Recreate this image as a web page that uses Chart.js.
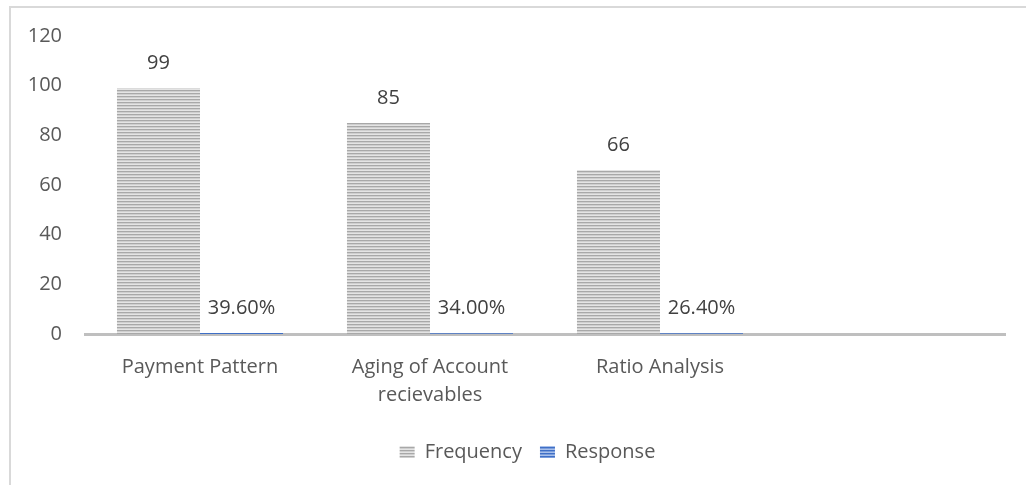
<!DOCTYPE html>
<html lang="en">
<head>
  <meta charset="UTF-8">
  <title>Debtor evaluation methods</title>
  <style>
    *{
      margin: 0;
      padding: 0;
    }
    body{
      background: #fff;
      width: 1026px;
      height: 485px;
      overflow: hidden;
      position: relative;
    }
    .frame{
      position: absolute;
      left: 9px;
      top: 6px;
      width: 1100px;
      height: 600px;
      border-left: 2px solid #d9d9d9;
      border-top: 2px solid #d9d9d9;
    }
    .chartBox{
      position: absolute;
      left: 0;
      top: 0;
      width: 1026px;
      height: 485px;
    }
  </style>
</head>
<body>
  <div class="frame"></div>
  <div class="chartBox">
    <canvas id="myChart"></canvas>
  </div>
  <script src="https://cdn.jsdelivr.net/npm/chart.js"></script>
  <script>
    // data
    const categories = ['Payment Pattern', ['Aging of Account', 'recievables'], 'Ratio Analysis', ''];
    const frequency = [99, 85, 66, null];
    const response = [0.396, 0.34, 0.264, null];
    const yMax = 120;
    const yStep = 20;

    // striped fills like the excel pattern
    function stripes(colors){
      const c = document.createElement('canvas');
      c.width = 4;
      c.height = colors.length;
      const ctx = c.getContext('2d');
      colors.forEach((col, i) => {
        ctx.fillStyle = col;
        ctx.fillRect(0, i, 4, 1);
      });
      return ctx.createPattern(c, 'repeat');
    }
    const grayFill = stripes(['#a8a8a8', '#cfcfcf', '#e4e4e4']);
    const blueFill = stripes(['#3f6fc6', '#7b9ddb', '#a9c0ea']);

    const font = "'Open Sans', sans-serif";

    // value labels above bars
    const barLabels = {
      id: 'barLabels',
      afterDatasetsDraw(chart){
        const ctx = chart.ctx;
        ctx.save();
        ctx.font = '20px ' + font;
        ctx.fillStyle = '#404040';
        ctx.textAlign = 'center';
        ctx.textBaseline = 'middle';
        chart.data.datasets.forEach((ds, di) => {
          chart.getDatasetMeta(di).data.forEach((bar, i) => {
            const v = ds.data[i];
            if (v === null || v === undefined) return;
            const txt = di === 0 ? String(v) : (v * 100).toFixed(2) + '%';
            ctx.fillText(txt, bar.x, bar.y - 25);
          });
        });
        ctx.restore();
      }
    };

    // legend sits a bit right of the canvas centre in the original
    const legendShift = {
      id: 'legendShift',
      afterLayout(chart){
        chart.legend.left += 50;
      }
    };

    const data = {
      labels: categories,
      datasets: [{
        label: 'Frequency',
        data: frequency,
        backgroundColor: grayFill,
        borderWidth: 0
      }, {
        label: 'Response',
        data: response,
        backgroundColor: blueFill,
        borderWidth: 0
      }]
    };

    const config = {
      type: 'bar',
      data,
      options: {
        responsive: false,
        animation: false,
        devicePixelRatio: 1,
        layout: {
          padding: { left: 0, right: 21, top: 36, bottom: 13 }
        },
        datasets: {
          bar: { categoryPercentage: 0.722, barPercentage: 1 }
        },
        scales: {
          x: {
            grid: { display: false, drawTicks: false },
            border: { display: true, color: '#bfbfbf', width: 3 },
            ticks: {
              color: '#595959',
              font: { family: font, size: 20, lineHeight: 1.4 },
              padding: 19,
              maxRotation: 0,
              autoSkip: false
            },
            afterFit(scale){ scale.height = 90; }
          },
          y: {
            min: 0,
            max: yMax,
            grid: { display: false, drawTicks: false },
            border: { display: false },
            ticks: {
              stepSize: yStep,
              color: '#595959',
              font: { family: font, size: 20 },
              padding: 23
            },
            afterFit(scale){ scale.width = 85; }
          }
        },
        plugins: {
          legend: {
            position: 'bottom',
            labels: {
              color: '#595959',
              font: { family: font, size: 20 },
              boxWidth: 15,
              boxHeight: 12,
              padding: 18
            }
          },
          tooltip: { enabled: false }
        }
      },
      plugins: [barLabels, legendShift]
    };

    const canvas = document.getElementById('myChart');
    canvas.width = 1026;
    canvas.height = 485;
    const myChart = new Chart(canvas, config);
  </script>
</body>
</html>
